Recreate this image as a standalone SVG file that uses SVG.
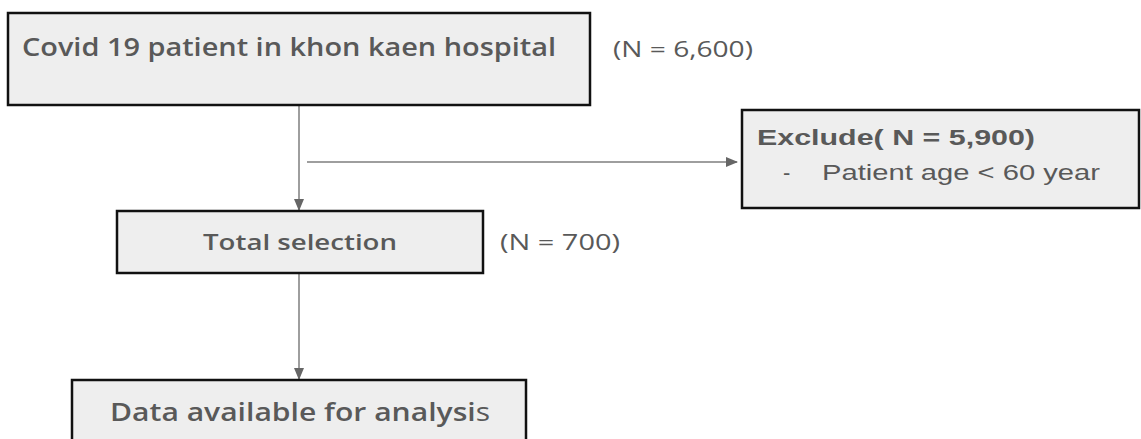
<svg xmlns="http://www.w3.org/2000/svg" width="1141" height="439" viewBox="0 0 1141 439">
<defs>
<style>
.box{fill:#eeeeee;stroke:#111111;stroke-width:2.5}
.t{font-family:"Open Sans","Noto Sans",sans-serif;fill:#595959}
.b{font-weight:600}
.a{font-family:"Liberation Sans",Arial,sans-serif;fill:#595959;font-size:22px}
.ln{stroke:#9e9e9e;stroke-width:2;fill:none}
</style>
<marker id="arr" markerWidth="12" markerHeight="10" refX="11" refY="5" orient="auto" markerUnits="userSpaceOnUse">
<path d="M0,0 L12,5 L0,10 Z" fill="#666666"/>
</marker>
</defs>
<rect width="1141" height="439" fill="#ffffff"/>
<g id="connectors">
<line class="ln" x1="299" y1="105" x2="299" y2="210" marker-end="url(#arr)"/>
<line class="ln" x1="307" y1="162" x2="737" y2="162" marker-end="url(#arr)"/>
<line class="ln" x1="299" y1="273" x2="299" y2="379" marker-end="url(#arr)"/>
</g>
<g id="node-covid">
<rect class="box" x="8" y="13" width="582" height="92"/>
<text class="t b" x="22" y="56" font-size="26" textLength="534" lengthAdjust="spacingAndGlyphs">Covid 19 patient in khon kaen hospital</text>
</g>
<g id="label-6600">
<text class="t" x="613" y="57" font-size="21" textLength="140" lengthAdjust="spacingAndGlyphs">(N = 6,600)</text>
</g>
<g id="node-exclude">
<rect class="box" x="742" y="110" width="397" height="98"/>
<text class="a" x="757" y="145" font-weight="bold" textLength="278" lengthAdjust="spacingAndGlyphs">Exclude( N = 5,900)</text>
<text class="a" x="783" y="180">-</text>
<text class="a" x="822" y="180" textLength="278" lengthAdjust="spacingAndGlyphs">Patient age &lt; 60 year</text>
</g>
<g id="node-total">
<rect class="box" x="117" y="211" width="366" height="62"/>
<text class="t b" x="203" y="250" font-size="22" textLength="194" lengthAdjust="spacingAndGlyphs">Total selection</text>
</g>
<g id="label-700">
<text class="t" x="500" y="250" font-size="21" textLength="120" lengthAdjust="spacingAndGlyphs">(N = 700)</text>
</g>
<g id="node-data">
<rect class="box" x="72" y="380" width="454" height="70"/>
<text class="t" x="110" y="421" font-size="26" textLength="380" lengthAdjust="spacingAndGlyphs"><tspan font-weight="600">Data available for analysi</tspan><tspan>s</tspan></text>
</g>
</svg>
